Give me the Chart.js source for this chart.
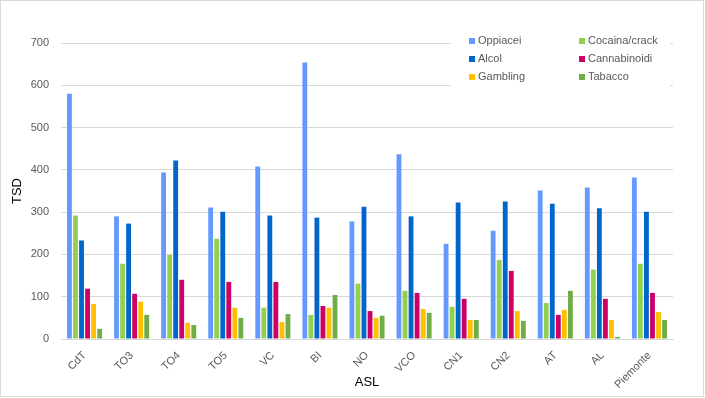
<!DOCTYPE html>
<html>
<head>
<meta charset="utf-8">
<script src="https://cdn.jsdelivr.net/npm/chart.js@4"></script>
<style>
  html, body { margin: 0; padding: 0; background: #fff; }
  #wrap { width: 705px; height: 398px; }
</style>
</head>
<body>
<div id="wrap"><canvas id="chart"></canvas></div>
<script>
// Categorie (ASL)
const asl = ['CdT', 'TO3', 'TO4', 'TO5', 'VC', 'BI', 'NO', 'VCO', 'CN1', 'CN2', 'AT', 'AL', 'Piemonte'];

// Valori per serie
const oppiacei     = [580, 290, 394, 311, 408, 654, 278, 437, 225, 256, 351, 358, 382];
const cocaina      = [292, 178, 199, 237, 74, 57, 131, 114, 76, 187, 85, 164, 178];
const alcol        = [233, 273, 422, 301, 292, 287, 313, 290, 323, 325, 320, 309, 301];
const cannabinoidi = [119, 107, 140, 135, 135, 78, 66, 109, 95, 161, 57, 95, 109];
const gambling     = [83, 88, 38, 74, 40, 74, 50, 71, 45, 66, 69, 45, 64];
const tabacco      = [24, 57, 33, 50, 59, 104, 55, 62, 45, 43, 114, 5, 45];

const yTicks = [0, 100, 200, 300, 400, 500, 600, 700];

const fontFamily = '"Liberation Sans", Arial, sans-serif';
const grigio = '#595959';

// Legenda disegnata a mano dentro l'area del grafico (due colonne come in Excel)
const legendaInterna = {
    id: 'legendaInterna',
    afterDraw(chart) {
        const ctx = chart.ctx;
        ctx.save();
        ctx.fillStyle = '#ffffff';
        ctx.fillRect(451, 28, 219, 64);
        ctx.font = '11px ' + fontFamily;
        ctx.textBaseline = 'middle';
        const cols = [469, 579];
        const rows = [41, 59, 77];
        chart.data.datasets.forEach(function(ds, i) {
            const x = cols[i % 2];
            const y = rows[Math.floor(i / 2)];
            ctx.fillStyle = ds.backgroundColor;
            ctx.fillRect(x, y - 3, 6, 6);
            ctx.fillStyle = grigio;
            ctx.fillText(ds.label, x + 9, y);
        });
        ctx.restore();
    }
};

// Bordo esterno del grafico
const bordo = {
    id: 'bordo',
    afterDraw(chart) {
        const ctx = chart.ctx;
        ctx.save();
        ctx.strokeStyle = '#d9d9d9';
        ctx.lineWidth = 1;
        ctx.strokeRect(0.5, 0.5, chart.width - 2, chart.height - 2);
        ctx.restore();
    }
};

Chart.defaults.font.family = fontFamily;
Chart.defaults.color = grigio;

new Chart(document.getElementById('chart').getContext('2d'), {
    type: 'bar',
    data: {
        labels: asl,
        datasets: [
            { label: 'Oppiacei', data: oppiacei, backgroundColor: '#6699FF' },
            { label: 'Cocaina/crack', data: cocaina, backgroundColor: '#92D050' },
            { label: 'Alcol', data: alcol, backgroundColor: '#0066CC' },
            { label: 'Cannabinoidi', data: cannabinoidi, backgroundColor: '#CC0066' },
            { label: 'Gambling', data: gambling, backgroundColor: '#FFC000' },
            { label: 'Tabacco', data: tabacco, backgroundColor: '#70AD47' }
        ]
    },
    options: {
        responsive: true,
        maintainAspectRatio: false,
        animation: false,
        categoryPercentage: 0.77,
        barPercentage: 0.8,
        layout: { padding: { top: 43, right: 32, bottom: 0, left: 0 } },
        plugins: {
            legend: { display: false },
            tooltip: { enabled: false }
        },
        scales: {
            x: {
                grid: { display: false },
                border: { color: '#d9d9d9' },
                ticks: { font: { size: 11 }, maxRotation: 45, minRotation: 45, padding: 2 },
                title: { display: true, text: 'ASL', color: '#000', font: { size: 13 }, padding: { top: 0, bottom: 8 } },
                afterFit(s) { s.height = 59; }
            },
            y: {
                min: 0,
                max: 700,
                afterBuildTicks(s) { s.ticks = yTicks.map(v => ({ value: v })); },
                grid: { color: '#d9d9d9', drawTicks: false },
                border: { display: false },
                ticks: { font: { size: 11 }, padding: 12 },
                title: { display: true, text: 'TSD', color: '#000', font: { size: 13 }, padding: { top: 10, bottom: 0 } },
                afterFit(s) { s.width = 61; }
            }
        }
    },
    plugins: [legendaInterna, bordo]
});
</script>
</body>
</html>
